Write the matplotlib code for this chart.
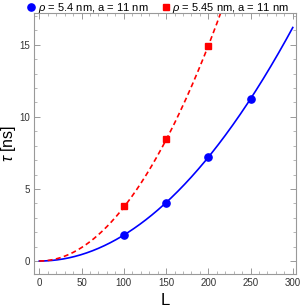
import numpy as np
import matplotlib.pyplot as plt
from matplotlib.ticker import MultipleLocator

# Data.
L_blue = np.array([100, 150, 200, 250])
tau_blue = np.array([1.81, 4.05, 7.22, 11.23])
L_red = np.array([100, 150, 200])
tau_red = np.array([3.82, 8.45, 14.88])

label_blue = r'$\rho$ = 5.4 nm, a = 11 nm'
label_red = r'$\rho$ = 5.45 nm, a = 11 nm'

# Fit tau = c * L^2 through the points (curves in the reference are fits).
c_blue = np.sum(tau_blue * L_blue**2) / np.sum(L_blue**4.0)
c_red = np.sum(tau_red * L_red**2) / np.sum(L_red**4.0)
L_fit = np.linspace(0, 300, 301)

plt.rcParams['font.family'] = ['Liberation Sans', 'DejaVu Sans']
plt.rcParams['mathtext.fontset'] = 'custom'
plt.rcParams['mathtext.it'] = 'Liberation Sans:italic'
plt.rcParams['mathtext.rm'] = 'Liberation Sans'

fig = plt.figure(figsize=(3.0, 3.08), dpi=100)
ax = fig.add_axes([34/300, 1 - 274/308, (296-34)/300, (274-13)/308])

ax.plot(L_fit, c_blue * L_fit**2, '-', color='#0000ff', lw=1.2)
ax.plot(L_fit, c_red * L_fit**2, '--', color='#ff0000', lw=1.2, dashes=(3, 2))
h1, = ax.plot(L_blue, tau_blue, 'o', color='#0000ff', ms=5.2, label=label_blue)
h2, = ax.plot(L_red, tau_red, 's', color='#ff0000', ms=4.8, label=label_red)

ax.set_xlim(-6.3, 303.8)
ax.set_ylim(-0.9, 17.2)
ax.xaxis.set_major_locator(MultipleLocator(50))
ax.xaxis.set_minor_locator(MultipleLocator(10))
ax.yaxis.set_major_locator(MultipleLocator(5))
ax.yaxis.set_minor_locator(MultipleLocator(1))
ax.tick_params(which='both', direction='in', top=True, right=True, color='#999999',
               labelsize=7, labelcolor='#333333')
ax.tick_params(which='major', length=4, width=0.7, pad=3)
ax.tick_params(which='minor', length=2, width=0.5)
for s in ax.spines.values():
  s.set_color('#999999')
  s.set_linewidth(0.8)

ax.set_xlabel('L', fontsize=12)
ax.set_ylabel(r'$\tau$ [ns]', fontsize=11.5)
ax.xaxis.set_label_coords(0.5, -0.072)
ax.yaxis.set_label_coords(-0.062, 0.5)

fig.legend(handles=[h1, h2], loc='upper left', bbox_to_anchor=(0.095, 0.998), ncol=2,
           frameon=False, fontsize=8, handlelength=0.5, handletextpad=0.35,
           columnspacing=1.3, borderaxespad=0, borderpad=0)

fig.savefig('out.png', dpi=100)
